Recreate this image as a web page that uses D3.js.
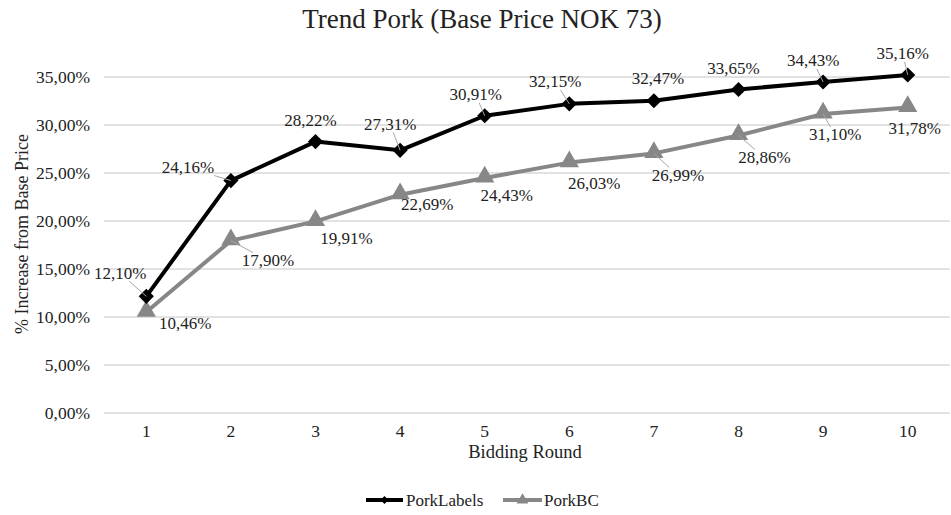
<!DOCTYPE html>
<html>
<head>
<meta charset="utf-8">
<script src="https://cdn.jsdelivr.net/npm/d3@7"></script>
<style>
  html, body { margin: 0; padding: 0; background: #fff; }
  svg { display: block; }
  text { font-family: "Liberation Serif", "Times New Roman", serif; fill: #222; }
</style>
</head>
<body>
<svg id="chart" width="951" height="515"></svg>
<script>
// ---- data ----
const rounds = ["1", "2", "3", "4", "5", "6", "7", "8", "9", "10"];
const porkLabels = [12.10, 24.16, 28.22, 27.31, 30.91, 32.15, 32.47, 33.65, 34.43, 35.16];
const porkBC = [10.46, 17.90, 19.91, 22.69, 24.43, 26.03, 26.99, 28.86, 31.10, 31.78];
const yTicks = [0, 5, 10, 15, 20, 25, 30, 35];
const seriesNames = ["PorkLabels", "PorkBC"];
const titleText = "Trend Pork (Base Price NOK 73)";
const xTitle = "Bidding Round";
const yTitle = "% Increase from Base Price";

// ---- label placement (layout only: offsets of label centre from point) ----
const labelOffsetsA = [[-26, -23], [-43, -13], [-5, -21], [-10, -26], [-9, -21], [-14, -22], [4, -22], [-5, -21], [-10, -21], [-5, -21]];
const leaderA = [true, true, false, true, true, true, false, false, true, true];
const labelOffsetsB = [[39, 11], [37, 20], [31, 17], [27, 10], [22, 18], [25, 21], [24, 22], [26, 22], [12, 21], [7, 21]];
const leaderB = [false, true, false, false, false, false, true, true, true, false];

const fmt = v => v.toFixed(2).replace(".", ",") + "%";

const svg = d3.select("#chart");

const x = d3.scaleBand().domain(rounds).range([104, 950]);
const xc = d => x(d) + x.bandwidth() / 2;
const y = d3.scaleLinear().domain([0, 35]).range([412.5, 76.5]);

// Title
svg.append("text").attr("x", 482).attr("y", 28).attr("text-anchor", "middle")
  .style("font-size", "27px").text(titleText);

// Gridlines + y axis
const yAxis = d3.axisLeft(y).tickValues(yTicks).tickSize(-(950 - 104)).tickPadding(14)
  .tickFormat(v => v.toFixed(2).replace(".", ",") + "%");
const gy = svg.append("g").attr("transform", "translate(104,0)").call(yAxis);
gy.select(".domain").remove();
gy.selectAll(".tick line").attr("stroke", "#d9d9d9").attr("stroke-width", 1.3);
gy.selectAll(".tick text").style("font-size", "17.5px").attr("fill", "#222");

// x axis labels
const xAxis = d3.axisBottom(x).tickSize(0).tickPadding(12);
const gx = svg.append("g").attr("transform", "translate(0,412.5)").call(xAxis);
gx.select(".domain").remove();
gx.selectAll(".tick text").style("font-size", "17.5px").attr("fill", "#222");

// Axis titles
svg.append("text").attr("x", 525).attr("y", 458).attr("text-anchor", "middle")
  .style("font-size", "18.5px").text(xTitle);
svg.append("text").attr("transform", "translate(28,234) rotate(-90)").attr("text-anchor", "middle")
  .style("font-size", "18px").text(yTitle);

const colA = "#000000", colB = "#878787";
const line = d3.line().x((d, i) => xc(rounds[i])).y(d => y(d));

// leader lines
function leaders(vals, offs, flags) {
  vals.forEach((v, i) => {
    if (!flags[i]) return;
    const px = xc(rounds[i]), py = y(v);
    const lx = px + offs[i][0], ly = py + offs[i][1];
    const hw = 27, hh = 8;
    const dx = px - lx, dy = py - ly;
    const t = Math.min(Math.abs(hw / (dx || 1e-6)), Math.abs(hh / (dy || 1e-6)));
    svg.append("line")
      .attr("x1", lx + dx * t).attr("y1", ly + dy * t)
      .attr("x2", px).attr("y2", py)
      .attr("stroke", "#a6a6a6").attr("stroke-width", 1);
  });
}

svg.append("path").datum(porkBC).attr("d", line).attr("fill", "none")
  .attr("stroke", colB).attr("stroke-width", 4).attr("stroke-linejoin", "round");
svg.append("path").datum(porkLabels).attr("d", line).attr("fill", "none")
  .attr("stroke", colA).attr("stroke-width", 4).attr("stroke-linejoin", "round");

const tri = d3.symbol().type(d3.symbolTriangle).size(160);
const dia = d3.symbol().type(d3.symbolSquare).size(115);

svg.append("g").selectAll("path").data(porkBC).join("path")
  .attr("d", tri).attr("fill", colB)
  .attr("transform", (d, i) => `translate(${xc(rounds[i])},${y(d) - 1})`);
svg.append("g").selectAll("path").data(porkLabels).join("path")
  .attr("d", dia).attr("fill", colA)
  .attr("transform", (d, i) => `translate(${xc(rounds[i])},${y(d)}) rotate(45)`);

leaders(porkLabels, labelOffsetsA, leaderA);
leaders(porkBC, labelOffsetsB, leaderB);

function labels(vals, offs) {
  svg.append("g").selectAll("text").data(vals).join("text")
    .attr("x", (d, i) => xc(rounds[i]) + offs[i][0])
    .attr("y", (d, i) => y(d) + offs[i][1])
    .attr("text-anchor", "middle").attr("dominant-baseline", "central")
    .style("font-size", "17px").text(d => fmt(d));
}
labels(porkLabels, labelOffsetsA);
labels(porkBC, labelOffsetsB);

// Legend
const legY = 500;
const leg = [
  { name: seriesNames[0], col: colA, rot: 45, x1: 366, x2: 403, tx: 406 },
  { name: seriesNames[1], col: colB, rot: 0, x1: 503, x2: 542, tx: 544 }
];
leg.forEach(l => {
  svg.append("line").attr("x1", l.x1).attr("x2", l.x2).attr("y1", legY).attr("y2", legY)
    .attr("stroke", l.col).attr("stroke-width", 4);
  const sym = l.rot ? d3.symbol().type(d3.symbolSquare).size(32)() : d3.symbol().type(d3.symbolTriangle).size(60)();
  svg.append("path").attr("d", sym).attr("fill", l.col)
    .attr("transform", `translate(${(l.x1 + l.x2) / 2},${legY}) rotate(${l.rot})`);
  svg.append("text").attr("x", l.tx).attr("y", legY).attr("dominant-baseline", "central")
    .style("font-size", "17px").text(l.name);
});
</script>
</body>
</html>
